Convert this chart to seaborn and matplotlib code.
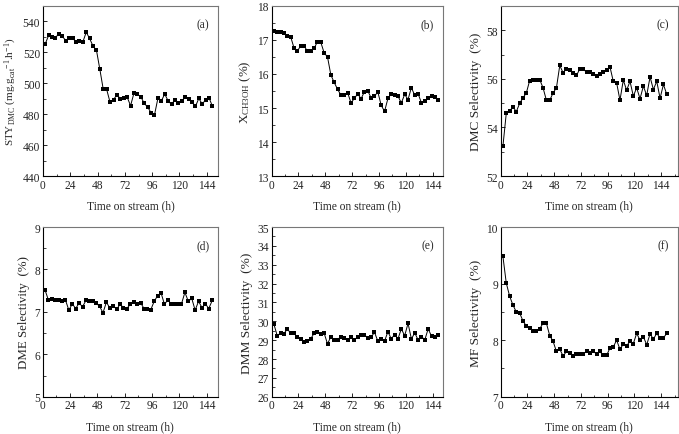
import matplotlib
matplotlib.use("Agg")
import matplotlib.pyplot as plt
import seaborn as sns
import pandas as pd
from matplotlib.ticker import MultipleLocator

sns.set_theme(style="ticks")
plt.rcParams['font.family'] = ['Liberation Serif', 'DejaVu Serif']
plt.rcParams['mathtext.fontset'] = 'custom'
plt.rcParams['mathtext.rm'] = 'Liberation Serif'
plt.rcParams['mathtext.it'] = 'Liberation Serif:italic'

hours = [2, 5, 8, 11, 14, 17, 20, 23, 26, 29, 32, 35, 38, 41, 44, 47, 50, 53, 56, 59,
         62, 65, 68, 71, 74, 77, 80, 83, 86, 89, 92, 95, 98, 101, 104, 107, 110, 113, 116, 119,
         122, 125, 128, 131, 134, 137, 140, 143, 146, 149]

sty_dmc = [525.5, 531, 530, 529.6, 532, 530.5, 527.5, 529, 529, 527, 527.5, 526.6, 533, 529, 524,
           521.4, 509, 496, 496, 487.6, 489.4, 492.6, 490, 490.6, 491, 485.5, 493.7, 492.8, 491.3, 487,
           484.6, 481, 479.4, 490.2, 488.5, 493, 488.7, 486.3, 489.4, 487.2, 488.5, 491, 490, 488, 485,
           490.2, 486.5, 489.4, 490.6, 485]
x_meoh = [17.25, 17.23, 17.22, 17.2, 17.12, 17.1, 16.77, 16.67, 16.83, 16.83, 16.67, 16.67, 16.75,
          16.95, 16.93, 16.62, 16.5, 15.97, 15.75, 15.55, 15.38, 15.38, 15.45, 15.15, 15.28, 15.42,
          15.27, 15.48, 15.5, 15.3, 15.35, 15.47, 15.08, 14.9, 15.28, 15.42, 15.38, 15.35, 15.15,
          15.4, 15.25, 15.6, 15.37, 15.42, 15.15, 15.2, 15.28, 15.35, 15.32, 15.23]
dmc_sel = [53.23, 54.58, 54.67, 54.85, 54.65, 54.99, 55.22, 55.42, 55.93, 55.97, 55.97, 55.97, 55.63,
           55.12, 55.12, 55.42, 55.63, 56.55, 56.25, 56.41, 56.36, 56.25, 56.14, 56.41, 56.41, 56.27,
           56.3, 56.22, 56.1, 56.18, 56.27, 56.36, 56.5, 55.9, 55.84, 55.12, 55.95, 55.53, 55.9,
           55.29, 55.63, 55.18, 55.7, 55.32, 56.08, 55.56, 55.9, 55.2, 55.77, 55.36]
dme_sel = [7.52, 7.28, 7.31, 7.28, 7.27, 7.25, 7.28, 7.04, 7.19, 7.08, 7.21, 7.12, 7.27, 7.25, 7.25,
           7.21, 7.13, 6.98, 7.23, 7.09, 7.15, 7.06, 7.18, 7.1, 7.08, 7.18, 7.23, 7.18, 7.22, 7.08,
           7.08, 7.05, 7.25, 7.38, 7.45, 7.18, 7.28, 7.19, 7.19, 7.19, 7.19, 7.46, 7.25, 7.32, 7.04,
           7.25, 7.1, 7.19, 7.08, 7.27]
dmm_sel = [29.86, 29.24, 29.37, 29.33, 29.6, 29.37, 29.37, 29.16, 29.07, 28.9, 28.93, 29.07, 29.37,
           29.42, 29.33, 29.37, 28.8, 29.19, 29.03, 29.03, 29.19, 29.12, 29.03, 29.16, 29.03, 29.16,
           29.28, 29.28, 29.12, 29.16, 29.42, 28.95, 29.07, 28.95, 29.45, 29.07, 29.3, 29.07, 29.6,
           29.24, 29.89, 29.07, 29.38, 29.02, 29.19, 29.02, 29.6, 29.21, 29.16, 29.3]
mf_sel = [9.48, 9.01, 8.78, 8.62, 8.5, 8.48, 8.34, 8.25, 8.21, 8.17, 8.17, 8.2, 8.3, 8.3, 8.08, 7.98,
          7.8, 7.84, 7.72, 7.8, 7.78, 7.72, 7.75, 7.76, 7.76, 7.8, 7.78, 7.8, 7.76, 7.8, 7.73, 7.73,
          7.86, 7.88, 8.0, 7.84, 7.93, 7.9, 7.98, 7.94, 8.12, 8.0, 8.06, 7.92, 8.11, 8.02, 8.12, 8.04,
          8.04, 8.12]

panel_labels = ["(a)", "(b)", "(c)", "(d)", "(e)", "(f)"]
y_labels = [r"STY$_\mathregular{DMC}$ (mg.g$_\mathregular{cat}$$^\mathregular{-1}$.h$^\mathregular{-1}$)",
            r"X$_\mathregular{CH3OH}$ (%)",
            "DMC Selectivity  (%)",
            "DME Selectivity  (%)",
            "DMM Selectivity  (%)",
            "MF Selectivity  (%)"]
x_label = "Time on stream (h)"
x_ticks = [0, 24, 48, 72, 96, 120, 144]

series = [sty_dmc, x_meoh, dmc_sel, dme_sel, dmm_sel, mf_sel]
ylims = [(440, 550), (13, 18), (52, 59), (5, 9), (26, 35), (7, 10)]
ymajor = [20, 1, 2, 1, 1, 1]
yminor = [10, 0.5, 1, 0.5, 0.5, 0.5]
xmax = [154, 153, 159, 154, 153, 159]
ylabel_fs = [8, 9.3, 9.6, 9.3, 9.6, 9.6]

positions = [
    [0.0633, 0.593, 0.258, 0.391],
    [0.400, 0.593, 0.252, 0.391],
    [0.7374, 0.593, 0.261, 0.391],
    [0.0629, 0.0857, 0.258, 0.390],
    [0.400, 0.0857, 0.252, 0.390],
    [0.7374, 0.0857, 0.261, 0.390],
]

fig = plt.figure(figsize=(6.79, 4.35), dpi=100)
fs = 8.3
for i in range(6):
    ax = fig.add_axes(positions[i])
    df = pd.DataFrame({"t": hours, "v": series[i]})
    sns.lineplot(data=df, x="t", y="v", ax=ax, color="black", linewidth=0.7,
                 marker="s", markersize=3, markeredgewidth=0, markerfacecolor="black")
    ax.set_xlim(0, xmax[i])
    ax.set_ylim(*ylims[i])
    ax.set_xticks(x_ticks)
    ax.xaxis.set_minor_locator(MultipleLocator(12))
    ax.yaxis.set_major_locator(MultipleLocator(ymajor[i]))
    ax.yaxis.set_minor_locator(MultipleLocator(yminor[i]))
    ax.tick_params(which="major", direction="in", length=3, width=0.7, labelsize=fs, pad=2,
                   top=False, right=False)
    ax.tick_params(which="minor", direction="in", length=1.8, width=0.6, top=False, right=False)
    ax.set_xlabel(x_label, fontsize=8.3, labelpad=6)
    ax.set_ylabel(y_labels[i], fontsize=ylabel_fs[i], labelpad=3)
    for s in ["left", "bottom"]:
        ax.spines[s].set_color("black")
        ax.spines[s].set_linewidth(0.8)
    for s in ["top", "right"]:
        ax.spines[s].set_color("#777777")
        ax.spines[s].set_linewidth(0.8)
    ax.text(0.95, 0.93, panel_labels[i], transform=ax.transAxes, ha="right", va="top", fontsize=fs)

fig.savefig("out.png", dpi=100)
